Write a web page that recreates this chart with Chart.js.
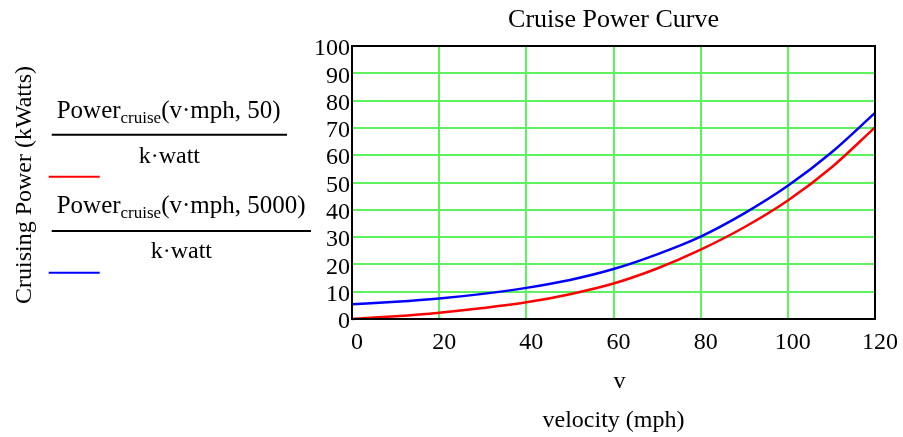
<!DOCTYPE html>
<html><head><meta charset="utf-8">
<script src="https://cdn.jsdelivr.net/npm/chart.js@4/dist/chart.umd.min.js"></script>
<style>html,body{margin:0;padding:0;background:#fff;overflow:hidden}#wrap{position:relative;width:903px;height:437px}</style>
</head><body><div id="wrap"><canvas id="c" width="903" height="437"></canvas></div>
<script>
const velocity = [0, 10, 20, 30, 40, 50, 60, 70, 80, 90, 100, 110, 120];
const powerAlt50 = [0, 1.0, 2.3, 4.0, 6.1, 9.1, 13.0, 18.5, 25.4, 33.6, 43.4, 55.5, 70.2];
const powerAlt5000 = [5.4, 6.3, 7.5, 9.2, 11.4, 14.3, 18.3, 23.7, 30.2, 38.7, 48.8, 61.0, 75.5];
const xTicks = [0, 20, 40, 60, 80, 100, 120];
const yTicks = [0, 10, 20, 30, 40, 50, 60, 70, 80, 90, 100];
const titleText = 'Cruise Power Curve';
const yTitleText = 'Cruising Power (kWatts)';
const xVarText = 'v';
const xTitleText = 'velocity (mph)';
const legendMain = 'Power';
const legendSub = 'cruise';
const legendArgs = ['(v·mph, 50)', '(v·mph, 5000)'];
const legendDenom = 'k·watt';
const seriesColors = ['#ff0000', '#0000ff'];

const SERIF = '"Liberation Serif", "Times New Roman", serif';

const textPlugin = {
  id: 'mathcadText',
  afterDatasetsDraw(chart) {
    const ctx = chart.ctx;
    const a = chart.chartArea;
    ctx.save();
    // plot frame
    ctx.strokeStyle = '#000';
    ctx.lineWidth = 2;
    ctx.strokeRect(a.left, a.top, a.right - a.left, a.bottom - a.top);
    ctx.fillStyle = '#000';
    // title
    ctx.font = '26px ' + SERIF;
    ctx.textAlign = 'center';
    ctx.textBaseline = 'alphabetic';
    ctx.fillText(titleText, (a.left + a.right) / 2, 27);
    // x labels
    ctx.font = '24px ' + SERIF;
    ctx.fillText(xVarText, (a.left + a.right) / 2 + 6, 388);
    ctx.fillText(xTitleText, (a.left + a.right) / 2, 427);
    // y title
    ctx.save();
    ctx.translate(31, 185);
    ctx.rotate(-Math.PI / 2);
    ctx.fillText(yTitleText, 0, 0);
    ctx.restore();
    // legend
    const blocks = [
      {base: 118, fracY: 134.7, fracR: 287, denBase: 163, lineY: 176.7},
      {base: 213, fracY: 231, fracR: 311, denBase: 258, lineY: 272.7}
    ];
    blocks.forEach((b, i) => {
      ctx.textAlign = 'left';
      let x = 56.7;
      ctx.font = '25px ' + SERIF;
      ctx.fillText(legendMain, x, b.base);
      x += ctx.measureText(legendMain).width;
      ctx.font = '17px ' + SERIF;
      ctx.fillText(legendSub, x, b.base + 5);
      x += ctx.measureText(legendSub).width;
      ctx.font = '25px ' + SERIF;
      ctx.fillText(legendArgs[i], x, b.base);
      ctx.strokeStyle = '#000';
      ctx.lineWidth = 2;
      ctx.beginPath();
      ctx.moveTo(51.7, b.fracY);
      ctx.lineTo(b.fracR, b.fracY);
      ctx.stroke();
      ctx.textAlign = 'center';
      ctx.font = '24px ' + SERIF;
      ctx.fillText(legendDenom, (51.7 + b.fracR) / 2, b.denBase);
      ctx.strokeStyle = seriesColors[i];
      ctx.beginPath();
      ctx.moveTo(48.7, b.lineY);
      ctx.lineTo(99.7, b.lineY);
      ctx.stroke();
    });
    ctx.restore();
  }
};

const gridColor = (c) => 'rgb(94,242,94)';

new Chart(document.getElementById('c'), {
  type: 'line',
  data: {
    datasets: [
      {
        label: 'Power cruise (v·mph, 50) / k·watt',
        data: velocity.map((v, i) => ({x: v, y: powerAlt50[i]})),
        borderColor: seriesColors[0], borderWidth: 2.5, pointRadius: 0,
        cubicInterpolationMode: 'monotone', fill: false, clip: 4
      },
      {
        label: 'Power cruise (v·mph, 5000) / k·watt',
        data: velocity.map((v, i) => ({x: v, y: powerAlt5000[i]})),
        borderColor: seriesColors[1], borderWidth: 2.5, pointRadius: 0,
        cubicInterpolationMode: 'monotone', fill: false, clip: 4
      }
    ]
  },
  options: {
    responsive: false,
    animation: false,
    devicePixelRatio: 1,
    layout: {padding: {left: 292, right: 28, top: 46, bottom: 78}},
    plugins: {legend: {display: false}, title: {display: false}, tooltip: {enabled: false}},
    scales: {
      x: {
        type: 'linear', min: 0, max: 120,
        afterBuildTicks: (s) => { s.ticks = xTicks.map(v => ({value: v})); },
        afterFit: (s) => { s.height = 40; },
        grid: {color: gridColor, lineWidth: 2, drawTicks: false},
        border: {display: false},
        ticks: {color: '#000', font: {family: SERIF, size: 24}, padding: 9, maxRotation: 0, autoSkip: false, labelOffset: 5}
      },
      y: {
        type: 'linear', min: 0, max: 100,
        afterBuildTicks: (s) => { s.ticks = yTicks.map(v => ({value: v})); },
        afterFit: (s) => { s.width = 60; },
        grid: {color: gridColor, lineWidth: 2, drawTicks: false},
        border: {display: false},
        ticks: {color: '#000', font: {family: SERIF, size: 24}, padding: 2, autoSkip: false, labelOffset: 3}
      }
    }
  },
  plugins: [textPlugin]
});
</script>
</body></html>
